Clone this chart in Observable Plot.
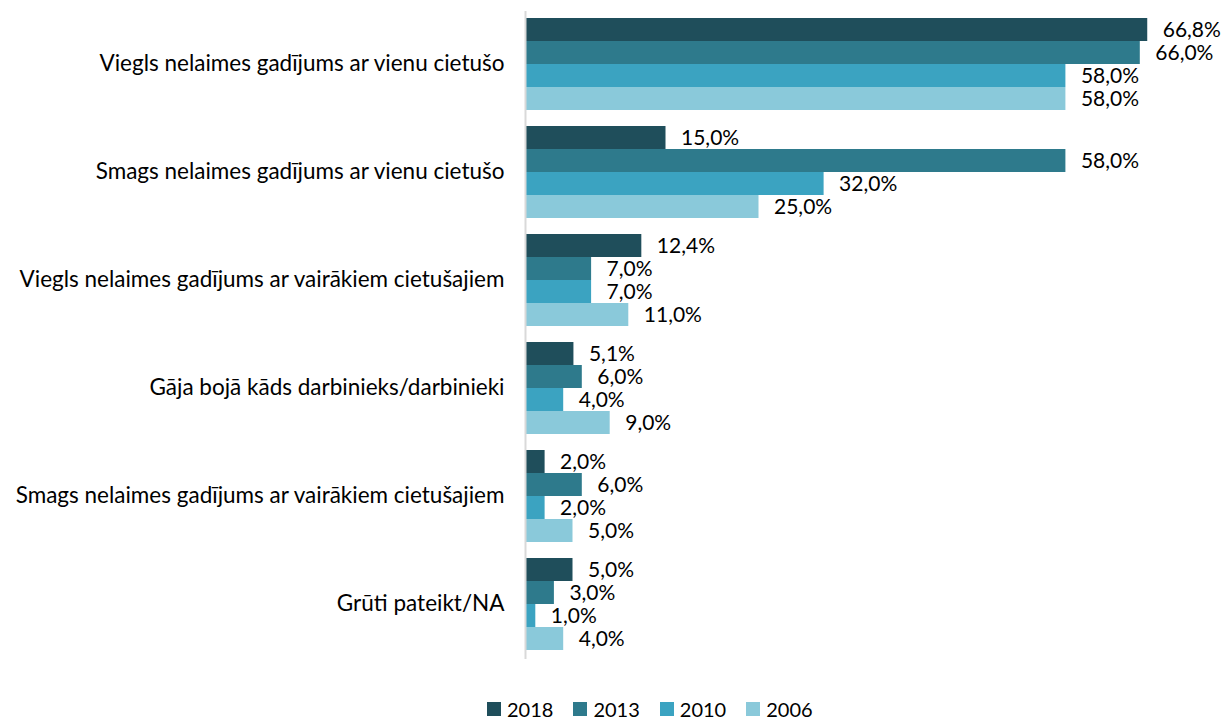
<!DOCTYPE html>
<html><head><meta charset="utf-8">
<script src="https://cdn.jsdelivr.net/npm/d3@7"></script>
<script src="https://cdn.jsdelivr.net/npm/@observablehq/plot@0.6"></script>
<style>
html,body{margin:0;background:#fff;font-family:Lato,"Open Sans",sans-serif;overflow:hidden;}
#chart svg{display:block;}
#legend{display:flex;align-items:center;padding-left:487px;height:22px;line-height:22px;margin-top:20px;font-size:20px;color:#000;}
#legend .it{display:flex;align-items:center;margin-right:20px;}
#legend .sw{width:14px;height:14px;margin-right:6px;}
</style></head><body>
<div id="chart"></div>
<div id="legend"></div>
<script>
const categories = [
  "Viegls nelaimes gadījums ar vienu cietušo",
  "Smags nelaimes gadījums ar vienu cietušo",
  "Viegls nelaimes gadījums ar vairākiem cietušajiem",
  "Gāja bojā kāds darbinieks/darbinieki",
  "Smags nelaimes gadījums ar vairākiem cietušajiem",
  "Grūti pateikt/NA"
];
const years = ["2018", "2013", "2010", "2006"];
const values2018 = [66.8, 15.0, 12.4, 5.1, 2.0, 5.0];
const values2013 = [66.0, 58.0, 7.0, 6.0, 6.0, 3.0];
const values2010 = [58.0, 32.0, 7.0, 4.0, 2.0, 1.0];
const values2006 = [58.0, 25.0, 11.0, 9.0, 5.0, 4.0];
const colors = ["#1f4e5b", "#2e7a8c", "#3ba3c1", "#8ac9da"];

const series = [values2018, values2013, values2010, values2006];
const data = [];
categories.forEach((c, i) => years.forEach((y, j) => data.push({cat: c, year: y, value: series[j][i]})));
const fmt = v => v.toFixed(1).replace(".", ",") + "%";

const chart = Plot.plot({
  width: 1226, height: 678,
  marginLeft: 526, marginRight: 49, marginTop: 16, marginBottom: 26,
  style: {fontFamily: "Lato, 'Open Sans', sans-serif", color: "#000"},
  x: {domain: [0, 70], axis: null},
  y: {domain: years, axis: null, padding: 0},
  fy: {domain: categories, padding: 0.136, label: null},
  color: {domain: years, range: colors},
  marks: [
    Plot.axisFy({anchor: "left", tickSize: 0, tickPadding: 22, fontSize: 22.5, label: null, fill: "#000"}),
    Plot.barX(data, {fy: "cat", y: "year", x: "value", fill: "year"}),
    Plot.text(data, {fy: "cat", y: "year", x: "value", text: d => fmt(d.value), textAnchor: "start", dx: 15, fontSize: 21, fill: "#000"}),
    Plot.ruleX([0], {dx: -1, stroke: "#d9d9d9", strokeWidth: 2, insetTop: -6, insetBottom: -9})
  ]
});
document.getElementById("chart").appendChild(chart);

const lg = document.getElementById("legend");
years.forEach((y, j) => {
  const it = document.createElement("div"); it.className = "it";
  const sw = document.createElement("div"); sw.className = "sw"; sw.style.background = colors[j];
  const t = document.createElement("span"); t.textContent = y;
  it.appendChild(sw); it.appendChild(t); lg.appendChild(it);
});
</script>
</body></html>
